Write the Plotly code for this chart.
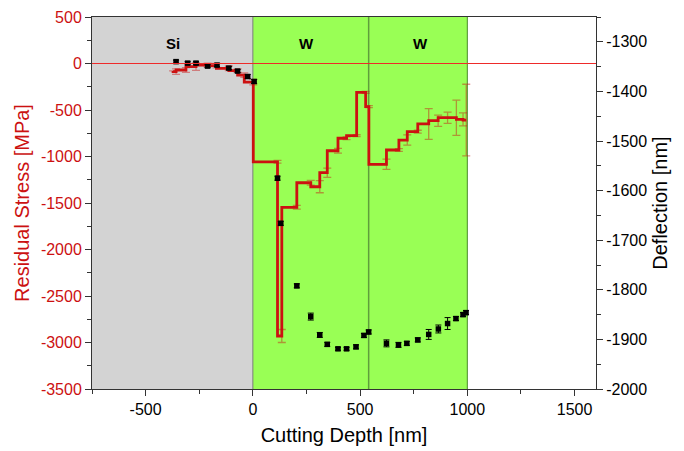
import plotly.graph_objects as go

# Residual stress (left axis), step line
stress_x = [-372, -358, -312, -265, -211, -170, -112, -71, -40, 2,
            115, 135, 205, 270, 312, 347, 397, 437, 484, 526, 541,
            623, 681, 720, 769, 820, 864, 908, 949, 980, 995]
stress_y = [-80, -88, -70, -34, -16, -23, -52, -77, -125, -200,
            -1057, -2930, -1546, -1282, -1325, -1174, -938, -804, -776, -310, -464,
            -1084, -930, -823, -733, -650, -615, -583, -583, -600, -608]
stress_err = [0, 30, 25, 40, 20, 25, 25, 20, 25, 30,
              15, 70, 20, 25, 65, 50, 25, 15, 10, 10, 10,
              55, 15, 55, 15, 165, 60, 60, 190, 70, 385]

# Deflection (right axis)
defl_x = [-358, -304, -265, -211, -167, -112, -71, -24, 6,
          115, 130, 205, 270, 312, 347, 397, 437, 481, 518, 540,
          623, 679, 718, 769, 820, 865, 908, 947, 980, 994]
defl_y = [-1340, -1343, -1343, -1349, -1347, -1353, -1359, -1370, -1380,
          -1575, -1666, -1792, -1854, -1891, -1910, -1919, -1919, -1915, -1892, -1885,
          -1908, -1911, -1908, -1901, -1890, -1879, -1868, -1858, -1850, -1846]
defl_err = [3, 3, 3, 3, 3, 3, 3, 4, 4,
            4, 4, 4, 7, 5, 4, 3, 3, 4, 4, 4,
            7, 5, 4, 4, 10, 8, 12, 4, 4, 4]

# Ticks
x_ticks = [-500, 0, 500, 1000, 1500]
x_minor = [-750, -250, 250, 750, 1250]
y_ticks = [-3500, -3000, -2500, -2000, -1500, -1000, -500, 0, 500]
y2_ticks = [-2000, -1900, -1800, -1700, -1600, -1500, -1400, -1300]

# Regions
regions = [(-750, 0, "#d3d3d3"), (0, 1000, "#99ff55")]
labels = [(-372, "Si"), (250, "W"), (780, "W")]
label_y = 210

red = "#cc1111"
zero_red = "#ee2a2a"
font = "Liberation Sans, Arial, sans-serif"

fig = go.Figure()

fig.add_trace(go.Scatter(
    x=stress_x, y=stress_y, mode="lines", line=dict(color=red, width=2.8, shape="vh"),
    error_y=dict(type="data", array=stress_err, visible=True,
                 color="rgba(200,20,20,0.45)", thickness=1.3, width=4),
    yaxis="y", showlegend=False, hoverinfo="x+y"))

fig.add_trace(go.Scatter(
    x=defl_x, y=defl_y, mode="markers",
    marker=dict(symbol="square", size=5.5, color="black"),
    error_y=dict(type="data", array=defl_err, visible=True,
                 color="black", thickness=1, width=3),
    yaxis="y2", showlegend=False))

shapes = []
for x0, x1, c in regions:
    shapes.append(dict(type="rect", xref="x", yref="paper", x0=x0, x1=x1, y0=0, y1=1,
                       fillcolor=c, line=dict(width=0), layer="below"))
shapes.append(dict(type="line", xref="x", yref="paper", x0=0, x1=0, y0=0, y1=1,
                   line=dict(color="#7a7a7a", width=1), layer="below"))
shapes.append(dict(type="line", xref="x", yref="paper", x0=540, x1=540, y0=0, y1=1,
                   line=dict(color="#5f9e3c", width=1.5), layer="below"))
shapes.append(dict(type="line", xref="x", yref="paper", x0=1000, x1=1000, y0=0, y1=1,
                   line=dict(color="#4a8a2a", width=1), layer="below"))
shapes.append(dict(type="line", xref="paper", yref="y", x0=0, x1=1, y0=0, y1=0,
                   line=dict(color=zero_red, width=1.2), layer="above"))

annotations = [dict(x=x, y=label_y, xref="x", yref="y", text="<b>%s</b>" % t,
                    showarrow=False, font=dict(family=font, size=15, color="black"))
               for x, t in labels]

tick_style = dict(showline=True, linecolor="#333", linewidth=1, ticks="outside",
                  ticklen=6, tickcolor="#333", showgrid=False, zeroline=False)

fig.update_layout(
    width=684, height=451,
    margin=dict(l=84, r=96, t=9, b=70),
    plot_bgcolor="white", paper_bgcolor="white",
    font=dict(family=font, size=16, color="black"),
    shapes=shapes, annotations=annotations,
    xaxis=dict(range=[-750, 1600], tickvals=x_ticks, ticktext=[str(v) for v in x_ticks],
               mirror=True, automargin=True,
               minor=dict(tickvals=x_minor, ticks="outside", ticklen=4, tickcolor="#333"),
               title=dict(text="Cutting Depth [nm]", font=dict(size=20), standoff=10),
               **tick_style),
    yaxis=dict(range=[-3500, 500], tickvals=y_ticks, ticktext=[str(v) for v in y_ticks],
               automargin=False,
               minor=dict(dtick=250, ticks="outside", ticklen=4, tickcolor="#333"),
               tickfont=dict(color=red),
               title=dict(text="Residual Stress [MPa]", font=dict(size=20, color=red), standoff=5),
               **tick_style),
    yaxis2=dict(range=[-2000, -1250], tickvals=y2_ticks, ticktext=[str(v) for v in y2_ticks],
                overlaying="y", side="right", anchor="x", automargin=False,
                minor=dict(dtick=50, ticks="outside", ticklen=4, tickcolor="#333"),
                title=dict(text="Deflection [nm]", font=dict(size=20), standoff=6),
                **tick_style),
)

fig.write_html("out.html")
